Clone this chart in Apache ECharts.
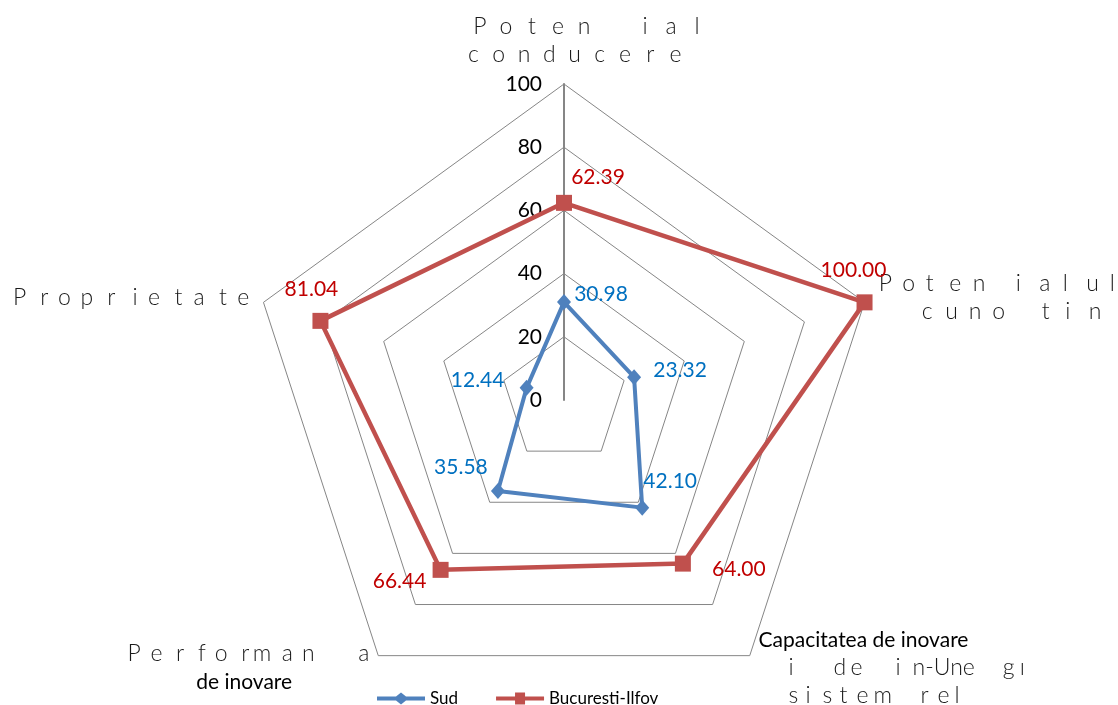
<!DOCTYPE html>
<html><head><meta charset="utf-8">
<script src="https://cdn.jsdelivr.net/npm/echarts@6/dist/echarts.min.js"></script>
<style>html,body{margin:0;padding:0;background:#fff}#c{width:1118px;height:705px}</style>
</head><body><div id="c"></div>
<script>
// ---- data (indicators listed starting at the top, going counter-clockwise) ----
const categories = ['Potențial conducere', 'Proprietate', 'Performanța de inovare',
  'Capacitatea de inovare și de integrare în sistem relațional', 'Potențialul cunoștințelor'];
const seriesNames = ['Sud', 'Bucuresti-Ilfov'];
const sudValues = [30.98, 12.44, 35.58, 42.10, 23.32];
const bucurestiValues = [62.39, 81.04, 66.44, 64.00, 100.00];
const axisMax = 100;
const tickStep = 20;
// axis titles as displayed in the source (letter-spaced; ' ' marks a glyph that is missing there)
const axisTitleLines = [
  ['Poten ial', 'conducere'],
  ['Proprietate'],
  ['Performan a', 'de inovare'],
  ['Capacitatea de inovare', ['i', ' ', 'd', 'e', ' ', 'i', 'n-Une', ' ', 'g', 'ı'], 'sistem rel'],
  ['Poten ialul', 'cuno tin']
];

// ---- styles ----
const sudColor = '#4F81BD', sudLabel = '#0070C0';
const bucColor = '#C0504D', bucLabel = '#C00000';
const sudOffsets = [[37, -8], [-49, -8], [-37, -24], [28, -26], [46, -7]];
const bucOffsets = [[34, -26], [-9, -32], [-41, 11], [56, 6], [-11, -32]];
// letter-cell layout of each title line
const titleLayout = [
  [{ cell: 26, gap: 35, indent: 49 }, { cell: 25.25, indent: 21 }],
  [{ cell: 22.3 }],
  [{ cell: 21.75, gap: 33 }, { plain: 'nc' }],
  [{ plain: 'n' }, { cell: 17, gap: 28, indent: 30 }, { cell: 17, gap: 30, indent: 30 }],
  [{ cell: 23.5, gap: 19.5 }, { cell: 23.5, gap: 26, indent: 43 }]
];
const spacedStyle = { fontFamily: 'Lato', fontWeight: 300, fontSize: 23, color: '#1a1a1a', lineHeight: 28 };
const normalStyle = { fontFamily: 'Lato', fontSize: 21, color: '#000', lineHeight: 28 };

const nameRich = { n: normalStyle, nc: Object.assign({}, normalStyle, { align: 'center' }) };
titleLayout.forEach(function (lines, i) {
  lines.forEach(function (lay, j) {
    if (lay.plain) return;
    const k = i + '_' + j;
    nameRich['c' + k] = Object.assign({}, spacedStyle, { width: lay.cell });
    nameRich['w' + k] = Object.assign({}, spacedStyle);
    if (lay.gap) nameRich['g' + k] = Object.assign({}, spacedStyle, { width: lay.gap });
    if (lay.indent) nameRich['i' + k] = Object.assign({}, spacedStyle, { width: lay.indent });
  });
});
function titleText(i) {
  return axisTitleLines[i].map(function (line, j) {
    const lay = titleLayout[i][j];
    if (lay.plain) return '{' + lay.plain + '|' + line + '}';
    const k = i + '_' + j;
    const toks = Array.isArray(line) ? line : line.split('');
    let s = lay.indent ? '{i' + k + '| }' : '';
    toks.forEach(function (t) {
      if (t === ' ') s += '{g' + k + '| }';
      else if (t.length > 1) s += '{w' + k + '|' + t + '}';
      else s += '{c' + k + '|' + t + '}';
    });
    return s;
  }).join('\n');
}

function offsetRich(offsets, color) {
  const r = {};
  offsets.forEach(function (o, i) {
    const dx = o[0], dy = o[1];
    r['p' + i] = {
      color: color, fontFamily: 'Lato', fontSize: 21,
      padding: [Math.max(0, 2 * dy), Math.max(0, -2 * dx), Math.max(0, -2 * dy), Math.max(0, 2 * dx)]
    };
  });
  return r;
}
function labelFormatter(values) {
  return function (p) {
    let i = p.dimensionIndex;
    if (i == null) i = values.indexOf(p.value);
    return '{p' + i + '|' + Number(p.value).toFixed(2) + '}';
  };
}

const chart = echarts.init(document.getElementById('c'), null, { renderer: 'canvas' });
chart.setOption({
  animation: false,
  backgroundColor: '#fff',
  legend: {
    top: 685, left: 372, itemWidth: 48, itemHeight: 12, itemGap: 38,
    textStyle: { fontFamily: 'Lato', fontSize: 17, color: '#000' },
    selectedMode: false,
    data: [
      { name: seriesNames[0], icon: 'path://M0,4L19,4L24,0L29,4L48,4L48,8L29,8L24,12L19,8L0,8Z' },
      { name: seriesNames[1], icon: 'path://M0,4L19,4L19,0L29,0L29,4L48,4L48,8L29,8L29,12L19,12L19,8L0,8Z' }
    ]
  },
  radar: {
    center: [564, 400],
    radius: 316,
    startAngle: 90,
    splitNumber: axisMax / tickStep,
    shape: 'polygon',
    nameGap: 15,
    indicator: categories.map(function (c, i) {
      return {
        name: c, min: 0, max: axisMax,
        axisLabel: i === 0
          ? { show: true, fontFamily: 'Lato', fontSize: 21, color: '#000', margin: 22 }
          : { show: false },
        axisLine: i === 0 ? { lineStyle: { color: '#868686', width: 2 } } : undefined
      };
    }),
    axisName: {
      formatter: function (name) { return titleText(categories.indexOf(name)); },
      rich: nameRich
    },
    splitLine: { lineStyle: { color: '#868686', width: 1 } },
    splitArea: { show: false },
    axisLine: { lineStyle: { color: '#868686', width: 1 } },
    axisTick: { show: false },
    axisLabel: { show: false }
  },
  series: [
    {
      type: 'radar', name: seriesNames[0], silent: true,
      symbol: 'diamond', symbolSize: [14, 16],
      lineStyle: { color: sudColor, width: 4 },
      itemStyle: { color: sudColor },
      label: { show: true, position: 'inside', formatter: labelFormatter(sudValues), rich: offsetRich(sudOffsets, sudLabel) },
      data: [{ name: seriesNames[0], value: sudValues }]
    },
    {
      type: 'radar', name: seriesNames[1], silent: true,
      symbol: 'rect', symbolSize: 16,
      lineStyle: { color: bucColor, width: 4.5 },
      itemStyle: { color: bucColor },
      label: { show: true, position: 'inside', formatter: labelFormatter(bucurestiValues), rich: offsetRich(bucOffsets, bucLabel) },
      data: [{ name: seriesNames[1], value: bucurestiValues }]
    }
  ]
});
</script></body></html>
